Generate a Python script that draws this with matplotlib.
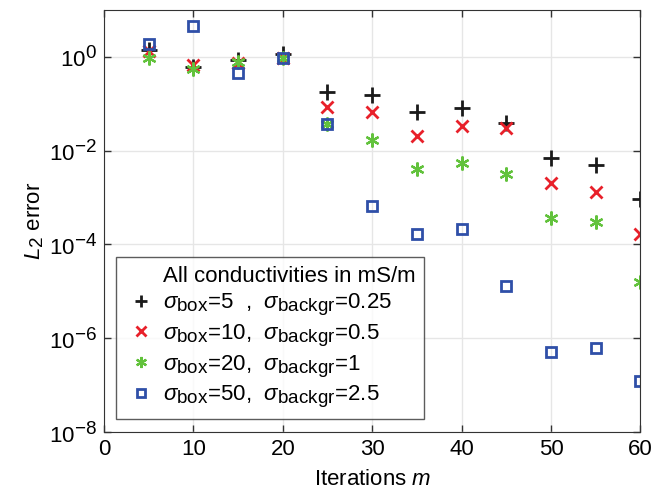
import matplotlib
matplotlib.use('Agg')
import matplotlib.pyplot as plt
from matplotlib.ticker import LogLocator, NullLocator
from matplotlib.lines import Line2D

# bigger, lower subscripts (closer to the MATLAB look)
try:
    import matplotlib._mathtext as _mt
    _mt.SHRINK_FACTOR = 0.85
    _mt.FontConstantsBase.subdrop = 0.75
except Exception:
    pass

plt.rcParams['font.family'] = ['Liberation Sans', 'DejaVu Sans']
plt.rcParams['mathtext.fontset'] = 'custom'
plt.rcParams['mathtext.rm'] = 'Liberation Sans'
plt.rcParams['mathtext.it'] = 'Liberation Sans:italic'
plt.rcParams['font.size'] = 15

# iterations
iters = [5, 10, 15, 20, 25, 30, 35, 40, 45, 50, 55, 60]

# L2 error per conductivity setting
err_5 = [1.4, 0.6, 0.85, 1.15, 0.18, 0.15, 0.066, 0.08, 0.038, 0.0071, 0.005, 9.4e-4]
err_10 = [1.3, 0.68, 0.75, 0.95, 0.085, 0.066, 0.02, 0.033, 0.03, 0.002, 0.0013, 1.7e-4]
err_20 = [0.95, 0.54, 0.78, 0.95, 0.036, 0.017, 0.0041, 0.0053, 0.0031, 3.7e-4, 3.0e-4, 1.6e-5]
err_50 = [1.9, 4.6, 0.45, 0.95, 0.036, 6.6e-4, 1.7e-4, 2.1e-4, 1.3e-5, 5.1e-7, 6.3e-7, 1.2e-7]

legend_title = 'All conductivities in mS/m'
labels = [r'$\sigma_{\rm box}$=5  ,  $\sigma_{\rm backgr}$=0.25',
          r'$\sigma_{\rm box}$=10,  $\sigma_{\rm backgr}$=0.5',
          r'$\sigma_{\rm box}$=20,  $\sigma_{\rm backgr}$=1',
          r'$\sigma_{\rm box}$=50,  $\sigma_{\rm backgr}$=2.5']

c_black = '#1a1a1a'
c_red = '#e8202a'
c_green = '#62c23c'
c_blue = '#2f4fa8'

fig = plt.figure(figsize=(6.67, 4.92), dpi=100)
ax = fig.add_axes([0.156, 0.122, 0.804, 0.858])

ax.plot(iters, err_5, '+', color=c_black, ms=11, mew=2)
ax.plot(iters, err_10, 'x', color=c_red, ms=8, mew=2)
ax.plot(iters, err_20, marker=(6, 2, 0), ls='none', color=c_green, ms=10, mew=1.6)
ax.plot(iters, err_50, 's', color=c_blue, mfc='none', ms=7, mew=2)

ax.set_yscale('log')
ax.set_xlim(0, 60)
ax.set_ylim(1e-8, 10)
ax.set_xticks(range(0, 61, 10))
ax.yaxis.set_major_locator(LogLocator(base=100))
ax.yaxis.set_minor_locator(NullLocator())
ax.grid(True, color='#e6e6e6', lw=1)
ax.set_axisbelow(True)
ax.tick_params(direction='in', top=True, right=True, length=5, width=1,
               color='#333333', labelsize=16, pad=5)
for s in ax.spines.values():
    s.set_color('#333333')

ax.set_xlabel(r'Iterations $m$', fontsize=16)
ax.xaxis.set_label_coords(0.5, -0.088)
ax.set_ylabel(r'$L_2$ error', fontsize=16, labelpad=2)

handles = [Line2D([], [], ls='none'),
           Line2D([], [], marker='+', ls='none', color=c_black, ms=9, mew=2),
           Line2D([], [], marker='x', ls='none', color=c_red, ms=6.5, mew=2),
           Line2D([], [], marker=(6, 2, 0), ls='none', color=c_green, ms=8, mew=1.6),
           Line2D([], [], marker='s', ls='none', color=c_blue, mfc='none', ms=6, mew=2)]
leg = ax.legend(handles, [legend_title] + labels, loc='lower left',
                bbox_to_anchor=(0.022, 0.03), fontsize=16,
                frameon=True, fancybox=False, edgecolor='#333333',
                handlelength=1.5, handletextpad=0.2, labelspacing=0.2,
                borderpad=0.4, borderaxespad=0)
leg.get_frame().set_linewidth(1)

fig.savefig('out.png', dpi=100)
